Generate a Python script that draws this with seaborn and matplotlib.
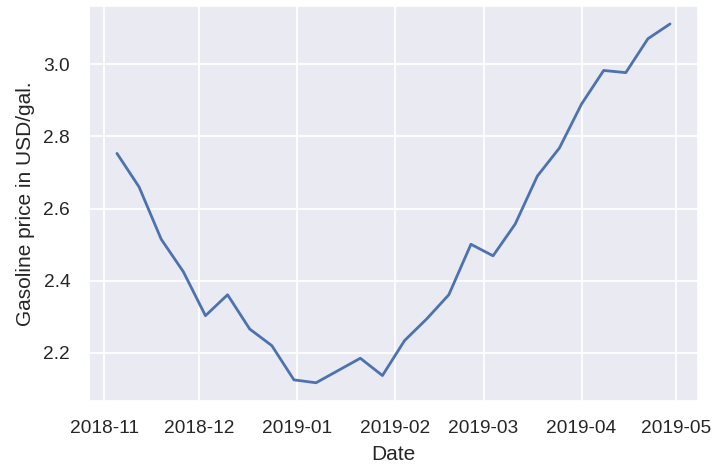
import matplotlib
matplotlib.use("Agg")
import matplotlib.pyplot as plt
import seaborn as sns
import pandas as pd
import matplotlib.dates as mdates

dates = pd.date_range("2018-11-05", periods=26, freq="7D")
prices = [2.753, 2.660, 2.515, 2.425, 2.303, 2.361, 2.266, 2.220, 2.125, 2.117,
          2.151, 2.185, 2.137, 2.234, 2.294, 2.361, 2.501, 2.469, 2.557, 2.690,
          2.768, 2.890, 2.983, 2.977, 3.071, 3.112]

df = pd.DataFrame({"Date": dates, "Gasoline price in USD/gal.": prices})

sns.set_theme(style="darkgrid", font_scale=1.25, rc={"grid.linewidth": 1.3})
plt.rcParams['font.family'] = ['Liberation Sans', 'DejaVu Sans']

fig, ax = plt.subplots(figsize=(7.15, 4.67), dpi=100)
sns.lineplot(data=df, x="Date", y="Gasoline price in USD/gal.", ax=ax, linewidth=2)
ax.xaxis.set_major_locator(mdates.MonthLocator())
ax.xaxis.set_major_formatter(mdates.DateFormatter("%Y-%m"))
ax.tick_params(axis="both", pad=7.8)
ax.xaxis.labelpad = 6
ax.yaxis.labelpad = 6
fig.subplots_adjust(left=89.3/715, right=697.7/715, top=1 - 6/467, bottom=1 - 400.7/467)
fig.savefig("out.png", dpi=100)
